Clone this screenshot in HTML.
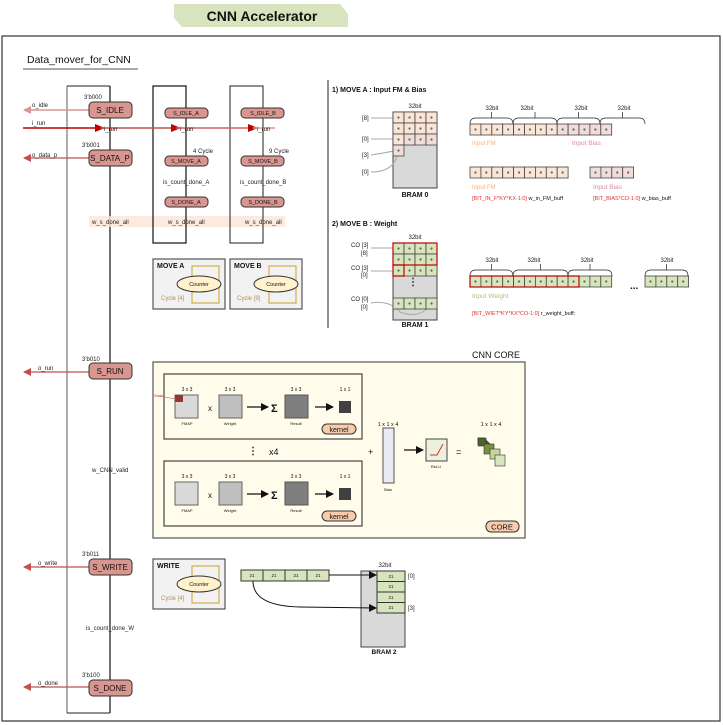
<!DOCTYPE html>
<html><head><meta charset="utf-8"><style>
html,body{margin:0;padding:0;background:#fff}
svg{display:block;font-family:"Liberation Sans",sans-serif}
.s{font-size:6px;fill:#222}
.b{font-weight:bold}
</style></head><body>
<svg id="g" width="723" height="725" viewBox="0 0 723 725" xmlns="http://www.w3.org/2000/svg">
<defs>
<marker id="ar" markerWidth="8" markerHeight="8" refX="7" refY="4" orient="auto" markerUnits="userSpaceOnUse"><path d="M0,0 L8,4 L0,8z" fill="#c0504d"/></marker>
<marker id="ap" markerWidth="8" markerHeight="8" refX="7" refY="4" orient="auto" markerUnits="userSpaceOnUse"><path d="M0,0 L8,4 L0,8z" fill="#d99694"/></marker>
<marker id="ak" markerWidth="8" markerHeight="8" refX="7" refY="4" orient="auto" markerUnits="userSpaceOnUse"><path d="M0,0 L8,4 L0,8z" fill="#111"/></marker>
<marker id="ad" markerWidth="10" markerHeight="8" refX="5" refY="4" orient="auto" markerUnits="userSpaceOnUse"><path d="M0,0 L10,4 L0,8z" fill="#c00000"/></marker>
</defs>
<!-- title -->
<polygon points="174,4 340,4 348,14 348,27 182,27 174,18" fill="#d7e4bd"/>
<text x="262" y="21" text-anchor="middle" font-size="14" font-weight="bold" fill="#111">CNN Accelerator</text>
<rect x="2" y="36" width="718" height="685" fill="none" stroke="#333" stroke-width="1.2"/>
<text x="27" y="63" font-size="10.5" fill="#111">Data_mover_for_CNN</text>
<line x1="23" y1="69" x2="138" y2="69" stroke="#555" stroke-width="1"/>

<!-- left column -->
<line x1="67" y1="86" x2="67" y2="713" stroke="#777" stroke-width="1.2"/>
<line x1="67" y1="86" x2="110" y2="86" stroke="#222"/>
<line x1="67" y1="713" x2="110" y2="713" stroke="#222"/>
<line x1="110" y1="86" x2="110" y2="713" stroke="#111" stroke-width="1.2"/>

<rect x="89" y="216" width="196" height="11" fill="#fbe5d6" opacity="0.8"/>
<text class="s" x="92" y="224">w_s_done_all</text>
<text class="s" x="168" y="224">w_s_done_all</text>
<text class="s" x="245" y="224">w_s_done_all</text>

<!-- columns A, B -->
<rect x="153" y="86" width="33" height="157" fill="none" stroke="#111" stroke-width="1.2"/>
<rect x="230" y="86" width="33" height="157" fill="none" stroke="#444" stroke-width="1.2"/>

<!-- arrows left -->
<line x1="89" y1="110" x2="24" y2="110" stroke="#d99694" stroke-width="1.5" marker-end="url(#ap)"/>
<text class="s" x="32" y="107">o_idle</text>
<line x1="89" y1="158" x2="24" y2="158" stroke="#c0504d" stroke-width="1.2" marker-end="url(#ar)"/>
<text class="s" x="32" y="157">o_data_p</text>
<line x1="89" y1="372" x2="24" y2="372" stroke="#c0504d" stroke-width="1.2" marker-end="url(#ar)"/>
<text class="s" x="38" y="370">o_run</text>
<line x1="89" y1="567" x2="24" y2="567" stroke="#c0504d" stroke-width="1.2" marker-end="url(#ar)"/>
<text class="s" x="38" y="565">o_write</text>
<line x1="89" y1="687" x2="24" y2="687" stroke="#c0504d" stroke-width="1.2" marker-end="url(#ar)"/>
<text class="s" x="38" y="685">o_done</text>

<!-- i_run -->
<line x1="23" y1="128" x2="100" y2="128" stroke="#c00000" stroke-width="1.5" marker-end="url(#ad)"/>
<line x1="100" y1="128" x2="176" y2="128" stroke="#c0504d" stroke-width="1.5" marker-end="url(#ad)"/>
<line x1="176" y1="128" x2="253" y2="128" stroke="#d06060" stroke-width="1.5" marker-end="url(#ad)"/>
<line x1="253" y1="128" x2="275" y2="128" stroke="#d99694" stroke-width="1.5"/>
<text class="s" x="32" y="125">i_run</text>
<text class="s" x="104" y="131">i_run</text>
<text class="s" x="180" y="131">i_run</text>
<text class="s" x="257" y="131">i_run</text>

<!-- states -->
<g stroke="#333" stroke-width="1" fill="#d99590">
<rect x="89" y="102" width="43" height="16" rx="4"/>
<rect x="89" y="150" width="43" height="16" rx="4"/>
<rect x="89" y="363" width="43" height="16" rx="4"/>
<rect x="89" y="559" width="43" height="16" rx="4"/>
<rect x="89" y="680" width="43" height="16" rx="4"/>
<rect x="165" y="108" width="43" height="10" rx="4"/>
<rect x="165" y="156" width="43" height="10" rx="4"/>
<rect x="165" y="197" width="43" height="10" rx="4"/>
<rect x="241" y="108" width="43" height="10" rx="4"/>
<rect x="241" y="156" width="43" height="10" rx="4"/>
<rect x="241" y="197" width="43" height="10" rx="4"/>
</g>
<g font-size="8" fill="#111" text-anchor="middle">
<text x="110" y="113">S_IDLE</text>
<text x="110" y="161">S_DATA_P</text>
<text x="110" y="374">S_RUN</text>
<text x="110" y="570">S_WRITE</text>
<text x="110" y="691">S_DONE</text>
</g>
<g font-size="5.5" fill="#111" text-anchor="middle">
<text x="186" y="115">S_IDLE_A</text>
<text x="186" y="163">S_MOVE_A</text>
<text x="186" y="204">S_DONE_A</text>
<text x="263" y="115">S_IDLE_B</text>
<text x="263" y="163">S_MOVE_B</text>
<text x="263" y="204">S_DONE_B</text>
</g>
<g class="s">
<text x="84" y="99">3'b000</text>
<text x="82" y="147">3'b001</text>
<text x="82" y="361">3'b010</text>
<text x="82" y="556">3'b011</text>
<text x="82" y="677">3'b100</text>
<text x="193" y="153">4 Cycle</text>
<text x="269" y="153">9 Cycle</text>
<text x="163" y="184">is_count_done_A</text>
<text x="240" y="184">is_count_done_B</text>
<text x="92" y="472">w_CNN_valid</text>
<text x="86" y="630">is_count_done_W</text>
</g>

<!-- MOVE A / B / WRITE boxes -->
<g id="mv">
<rect x="153" y="259" width="72" height="50" fill="#f2f2f2" stroke="#555" stroke-width="1.2"/>
<rect x="192" y="266" width="27" height="37" fill="none" stroke="#c9a227" stroke-width="1"/>
<ellipse cx="199" cy="284" rx="22" ry="8" fill="#fff2cc" stroke="#333"/>
<text x="199" y="286" font-size="5.5" text-anchor="middle" fill="#111">Counter</text>
</g>
<text x="157" y="268" font-size="7" font-weight="bold" fill="#111">MOVE A</text>
<text x="161" y="300" font-size="6" fill="#b0905a">Cycle [4]</text>
<use href="#mv" x="77"/>
<text x="234" y="268" font-size="7" font-weight="bold" fill="#111">MOVE B</text>
<text x="237" y="300" font-size="6" fill="#b0905a">Cycle [9]</text>
<use href="#mv" x="0" y="300"/>
<text x="157" y="568" font-size="7" font-weight="bold" fill="#111">WRITE</text>
<text x="161" y="600" font-size="6" fill="#b0905a">Cycle [4]</text>

<line x1="328" y1="80" x2="328" y2="328" stroke="#222"/>

<!-- MOVE A section -->
<text x="332" y="92" font-size="7" font-weight="bold" fill="#111">1) MOVE A : Input FM &amp; Bias</text>
<rect x="393" y="112" width="44" height="76" fill="#d9d9d9" stroke="#444"/>
<text class="s" x="415" y="108" text-anchor="middle">32bit</text>
<text x="415" y="197" font-size="7" font-weight="bold" text-anchor="middle" fill="#111">BRAM 0</text>
<g class="s"><text x="362" y="120">[8]</text><text x="362" y="141">[0]</text><text x="362" y="157">[3]</text><text x="362" y="174">[0]</text></g>
<g stroke="#aaa" fill="none"><line x1="371" y1="118" x2="396" y2="118"/><line x1="371" y1="139" x2="396" y2="139"/><path d="M371,155 Q390,152 398,150"/><path d="M371,172 Q395,172 398,152"/></g>

<text x="472" y="145" font-size="6" fill="#f4b183">Input FM</text>
<text x="572" y="145" font-size="6.5" fill="#d98aa0">Input Bias</text>
<text x="472" y="189" font-size="6" fill="#f4b183">Input FM</text>
<text x="593" y="189" font-size="6.5" fill="#d98aa0">Input Bias</text>
<text x="472" y="200" font-size="5.5" fill="#111"><tspan fill="#e03030">[BIT_IN_F*KY*KX-1:0]</tspan> w_in_FM_buff</text>
<text x="593" y="200" font-size="5.5" fill="#111"><tspan fill="#e03030">[BIT_BIAS*CO-1:0]</tspan> w_bias_buff</text>
<g class="s" text-anchor="middle"><text x="492" y="110">32bit</text><text x="527" y="110">32bit</text><text x="581" y="110">32bit</text><text x="624" y="110">32bit</text></g>

<!-- MOVE B -->
<text x="332" y="226" font-size="7" font-weight="bold" fill="#111">2) MOVE B : Weight</text>
<rect x="393" y="243" width="44" height="77" fill="#d9d9d9" stroke="#444"/>
<text class="s" x="415" y="239" text-anchor="middle">32bit</text>
<text x="415" y="327" font-size="7" font-weight="bold" text-anchor="middle" fill="#111">BRAM 1</text>
<text x="413" y="285" font-size="10" font-weight="bold" text-anchor="middle" fill="#111">⋮</text>
<g class="s"><text x="351" y="247">CO [3]</text><text x="361" y="255">[8]</text><text x="351" y="270">CO [3]</text><text x="361" y="277">[0]</text><text x="351" y="301">CO [0]</text><text x="361" y="309">[0]</text></g>
<g stroke="#aaa" fill="none"><line x1="371" y1="248" x2="396" y2="248"/><line x1="371" y1="271" x2="396" y2="271"/><path d="M371,303 Q390,300 400,312 Q420,320 432,303"/></g>
<text x="472" y="298" font-size="6.5" fill="#a9c47f">Input Weight</text>
<text x="472" y="315" font-size="5.5" fill="#111"><tspan fill="#e03030">[BIT_WIET*KY*KX*CO-1:0]</tspan> r_weight_buff;</text>
<text x="630" y="289" font-size="10" font-weight="bold" fill="#111">...</text>
<g class="s" text-anchor="middle"><text x="492" y="262">32bit</text><text x="534" y="262">32bit</text><text x="587" y="262">32bit</text><text x="667" y="262">32bit</text></g>

<!-- CNN CORE -->
<text x="472" y="358" font-size="9" fill="#111">CNN CORE</text>
<rect x="153" y="362" width="372" height="176" fill="#fffcec" stroke="#555" stroke-width="1.2"/>
<g id="kr">
<rect x="164" y="374" width="198" height="65" fill="none" stroke="#444" stroke-width="1.2"/>
<rect x="175" y="395" width="23" height="23" fill="#d9d9d9" stroke="#666"/>
<rect x="219" y="395" width="23" height="23" fill="#bfbfbf" stroke="#666"/>
<rect x="285" y="395" width="23" height="23" fill="#7f7f7f" stroke="#555"/>
<rect x="339" y="401" width="12" height="12" fill="#404040"/>
<text x="208" y="411" font-size="8" fill="#111">x</text>
<line x1="247" y1="407" x2="268" y2="407" stroke="#111" stroke-width="1.3" marker-end="url(#ak)"/>
<text x="271" y="412" font-size="11" font-weight="bold" fill="#111">Σ</text>
<line x1="315" y1="407" x2="333" y2="407" stroke="#111" stroke-width="1.3" marker-end="url(#ak)"/>
<g font-size="5" fill="#111" text-anchor="middle"><text x="187" y="391">3 x 3</text><text x="230" y="391">3 x 3</text><text x="296" y="391">3 x 3</text><text x="345" y="391">1 x 1</text>
<text x="187" y="425" font-size="4">FMAP</text><text x="230" y="425" font-size="4">Weight</text><text x="296" y="425" font-size="4">Result</text></g>
<rect x="322" y="424" width="34" height="10" rx="5" fill="#f8cbad" stroke="#333"/>
<text x="339" y="432" font-size="7" text-anchor="middle" fill="#111">kernel</text>
</g>
<use href="#kr" y="87"/>
<rect x="175" y="395" width="8" height="7" fill="#943634"/>
<line x1="158" y1="396" x2="176" y2="399" stroke="#c0504d" stroke-width="0.6"/>
<text x="154" y="397" font-size="3.5" fill="#c0504d">Stride</text>
<text x="248" y="454" font-size="10" font-weight="bold" fill="#111">⋮</text>
<text x="269" y="455" font-size="9" fill="#111">x4</text>
<text x="368" y="455" font-size="9" fill="#111">+</text>
<text x="388" y="426" font-size="5.5" text-anchor="middle" fill="#111">1 x 1 x 4</text>
<rect x="383" y="428" width="11" height="55" fill="#eaeaf2" stroke="#555"/>
<text x="388" y="491" font-size="4" text-anchor="middle" fill="#111">Bias</text>
<line x1="404" y1="450" x2="423" y2="450" stroke="#111" stroke-width="1.3" marker-end="url(#ak)"/>
<rect x="426" y="439" width="21" height="22" fill="#ebf1de" stroke="#444"/>
<path d="M430,455 L437,455 L443,444" stroke="#e03030" fill="none" stroke-width="1"/>
<text x="436" y="468" font-size="4" text-anchor="middle" fill="#111">ReLU</text>
<text x="456" y="455" font-size="9" fill="#111">=</text>
<text x="491" y="426" font-size="5.5" text-anchor="middle" fill="#111">1 x 1 x 4</text>
<g stroke="#333" stroke-width="0.6">
<polygon points="478,438 484,438 490,444 484,444" fill="#4f6228"/>
<rect x="478" y="438" width="6" height="6" fill="#4f6228"/>
<rect x="478" y="438" width="8" height="8" fill="#4f6228"/>
<rect x="484" y="444" width="10" height="10" fill="#76923c"/>
<rect x="490" y="449" width="10" height="10" fill="#c3d69b"/>
<rect x="495" y="455" width="10" height="11" fill="#d7e4bd"/>
</g>
<rect x="486" y="521" width="33" height="11" rx="5" fill="#f8cbad" stroke="#333"/>
<text x="502" y="529.5" font-size="7.5" text-anchor="middle" fill="#111">CORE</text>

<!-- WRITE section -->
<rect x="361" y="571" width="44" height="76" fill="#d9d9d9" stroke="#444"/>
<text class="s" x="385" y="567" text-anchor="middle">32bit</text>
<text x="384" y="654" font-size="6.5" font-weight="bold" text-anchor="middle" fill="#111">BRAM 2</text>
<text class="s" x="408" y="578">[0]</text><text class="s" x="408" y="610">[3]</text>
<g stroke="#333" fill="#d7e4bd">
<rect x="241" y="570" width="22" height="11"/><rect x="263" y="570" width="22" height="11"/><rect x="285" y="570" width="22" height="11"/><rect x="307" y="570" width="22" height="11"/>
<rect x="377" y="571" width="28" height="10.5"/><rect x="377" y="581.5" width="28" height="10.5"/><rect x="377" y="592" width="28" height="10.5"/><rect x="377" y="602.5" width="28" height="10.5"/>
</g>
<g font-size="4.5" text-anchor="middle" fill="#111">
<text x="252" y="577">21</text><text x="274" y="577">21</text><text x="296" y="577">21</text><text x="318" y="577">21</text>
<text x="391" y="578">21</text><text x="391" y="588">21</text><text x="391" y="599">21</text><text x="391" y="609">21</text>
</g>
<line x1="329" y1="575" x2="376" y2="575" stroke="#111" marker-end="url(#ak)"/>
<path d="M253,581 Q253,606 300,607 L376,608" stroke="#111" fill="none" marker-end="url(#ak)"/>
<g id="cells"></g>
</svg>
<script>
var g=document.getElementById('cells'),NS="http://www.w3.org/2000/svg";
function c(x,y,w,h,f,st,sw){var r=document.createElementNS(NS,'rect');r.setAttribute('x',x);r.setAttribute('y',y);r.setAttribute('width',w);r.setAttribute('height',h);r.setAttribute('fill',f);r.setAttribute('stroke',st||'#444');r.setAttribute('stroke-width',sw||0.8);g.appendChild(r);
if(f!='none'){var d=document.createElementNS(NS,'circle');d.setAttribute('cx',x+w/2);d.setAttribute('cy',y+h/2);d.setAttribute('r',1.1);d.setAttribute('fill','#4f6f58');g.appendChild(d);}}
function row(x,y,n,w,h,fn){for(var i=0;i<n;i++)c(x+i*w,y,w,h,fn(i));}
var pe='#fbe5d6',pk='#f2dcdb',gr='#d7e4bd';
row(393,112,4,11,11,function(){return pe});row(393,123,4,11,11,function(){return pe});row(393,134,4,11,11,function(i){return i?pk:pe});c(393,145,11,11,pk);
row(470,124,13,10.9,11,function(i){return i<8?pe:pk});
row(470,167,9,10.9,11,function(){return pe});row(590,167,4,10.9,11,function(){return pk});
row(393,243,4,11,11,function(){return gr});row(393,254,4,11,11,function(){return gr});row(393,265,4,11,11,function(){return gr});row(393,298,4,11,11,function(){return gr});
row(470,276,13,10.9,11,function(){return gr});row(645,276,4,10.9,11,function(){return gr});
c(393,243,44,22,'none','#c00000',1.2);c(393,265,11,11,'none','#c00000',1.2);c(470,276,109,11,'none','#c00000',1.2);
function br(x1,x2,y){var p=document.createElementNS(NS,'path');var m=(x1+x2)/2;p.setAttribute('d','M'+x1+','+(y+6)+' Q'+x1+','+y+' '+(x1+6)+','+y+' L'+(x2-6)+','+y+' Q'+x2+','+y+' '+x2+','+(y+6)+' M'+m+','+y+' L'+m+','+(y-6));p.setAttribute('fill','none');p.setAttribute('stroke','#222');p.setAttribute('stroke-width',0.7);g.appendChild(p);}
br(470,513,118);br(513,557,118);br(557,600,118);br(600,645,118);
br(470,513,270);br(513,568,270);br(568,612,270);br(645,688,270);
</script>
</body></html>
